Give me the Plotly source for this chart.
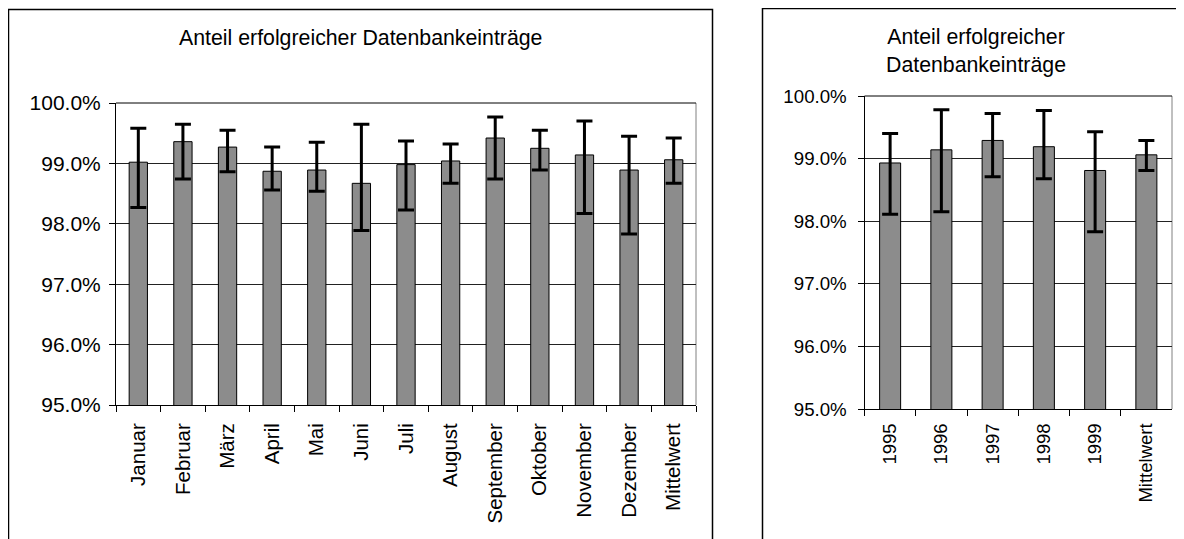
import plotly.graph_objects as go

# ---- data (percent) ----
months = ["Januar", "Februar", "März", "April", "Mai", "Juni", "Juli", "August",
          "September", "Oktober", "November", "Dezember", "Mittelwert"]
monthly_values = [99.02, 99.36, 99.27, 98.87, 98.89, 98.67, 98.98, 99.04, 99.42, 99.25, 99.14, 98.89, 99.06]
monthly_upper = [99.58, 99.65, 99.55, 99.27, 99.35, 99.65, 99.37, 99.32, 99.77, 99.55, 99.70, 99.45, 99.42]
monthly_lower = [98.27, 98.74, 98.86, 98.56, 98.54, 97.89, 98.23, 98.67, 98.74, 98.89, 98.17, 97.83, 98.67]

years = ["1995", "1996", "1997", "1998", "1999", "Mittelwert"]
yearly_values = [98.93, 99.14, 99.29, 99.19, 98.81, 99.06]
yearly_upper = [99.40, 99.78, 99.72, 99.77, 99.43, 99.29]
yearly_lower = [98.11, 98.15, 98.71, 98.68, 97.83, 98.81]

title_text = "Anteil erfolgreicher Datenbankeinträge"
title_text_wrapped = "Anteil erfolgreicher<br>Datenbankeinträge"

# page offset (browser body margin) compensation
OFF = 8
W, H = 1184 - OFF, 539 - OFF
FONT = "Liberation Sans, Arial, sans-serif"
BAR_COLOR = "#8c8c8c"


def frac(v):
    return [x / 100.0 for x in v]


def px_x(p):
    return (p - OFF) / W


def px_y(p):
    return 1 - (p - OFF) / H


fig = go.Figure()

mv = frac(monthly_values)
fig.add_trace(go.Bar(
    x=months, y=mv, width=0.41,
    marker=dict(color=BAR_COLOR, line=dict(color="black", width=1)),
    error_y=dict(type="data", symmetric=False,
                 array=[u - v for u, v in zip(frac(monthly_upper), mv)],
                 arrayminus=[v - l for v, l in zip(mv, frac(monthly_lower))],
                 color="black", thickness=3, width=8),
    xaxis="x", yaxis="y", showlegend=False, hoverinfo="x+y",
))

yv = frac(yearly_values)
fig.add_trace(go.Bar(
    x=years, y=yv, width=0.41,
    marker=dict(color=BAR_COLOR, line=dict(color="black", width=1)),
    error_y=dict(type="data", symmetric=False,
                 array=[u - v for u, v in zip(frac(yearly_upper), yv)],
                 arrayminus=[v - l for v, l in zip(yv, frac(yearly_lower))],
                 color="black", thickness=3, width=8),
    xaxis="x2", yaxis="y2", showlegend=False, hoverinfo="x+y",
))

yaxis_common = dict(range=[0.95, 1.0], dtick=0.01, tick0=0.95, tickformat=".1%",
                    showgrid=True, gridcolor="#222222", gridwidth=1,
                    showline=True, linecolor="black", linewidth=1,
                    ticks="outside", ticklen=6, tickcolor="black",
                    automargin=False, zeroline=False, fixedrange=True)
xaxis_common = dict(type="category", showline=True, linecolor="black", linewidth=1,
                    ticks="outside", tickson="boundaries", ticklen=6, tickcolor="black",
                    tickangle=-90, showgrid=False, fixedrange=True, automargin=False)

fig.update_layout(
    width=W, height=H, autosize=False,
    margin=dict(l=0, r=0, t=0, b=0, pad=0),
    paper_bgcolor="white", plot_bgcolor="white",
    font=dict(family=FONT, color="black"),
    xaxis=dict(domain=[px_x(116), px_x(696)], anchor="y", ticklabelstandoff=9,
               tickfont=dict(size=20.5, family=FONT), **xaxis_common),
    yaxis=dict(domain=[px_y(405), px_y(103)], anchor="x", ticklabelstandoff=4,
               tickfont=dict(size=21, family=FONT), **yaxis_common),
    xaxis2=dict(domain=[px_x(864.5), px_x(1172)], anchor="y2", ticklabelstandoff=6,
                tickfont=dict(size=18.5, family=FONT), **xaxis_common),
    yaxis2=dict(domain=[px_y(409), px_y(96)], anchor="x2", ticklabelstandoff=7,
                tickfont=dict(size=18.7, family=FONT), **yaxis_common),
    annotations=[
        dict(text=title_text, xref="paper", yref="paper", x=px_x(360.5), y=px_y(38),
             xanchor="center", yanchor="middle", showarrow=False,
             font=dict(size=21.3, family=FONT, color="black")),
        dict(text=title_text_wrapped, xref="paper", yref="paper", x=px_x(976), y=px_y(51),
             xanchor="center", yanchor="middle", showarrow=False,
             font=dict(size=21.3, family=FONT, color="black")),
    ],
    shapes=[
        # plot area borders: gray right edge, black top edge
        dict(type="line", xref="x domain", yref="y domain", x0=1, x1=1, y0=0, y1=1,
             line=dict(color="#808080", width=1), layer="below"),
        dict(type="line", xref="x domain", yref="y domain", x0=0, x1=1, y0=1, y1=1,
             line=dict(color="black", width=1), layer="below"),
        dict(type="line", xref="x2 domain", yref="y2 domain", x0=1, x1=1, y0=0, y1=1,
             line=dict(color="#808080", width=1), layer="below"),
        dict(type="line", xref="x2 domain", yref="y2 domain", x0=0, x1=1, y0=1, y1=1,
             line=dict(color="black", width=1), layer="below"),
        # chart area borders
        dict(type="rect", xref="paper", yref="paper",
             x0=px_x(8.5), x1=px_x(712.5), y0=-0.05, y1=px_y(9.5),
             line=dict(color="black", width=1.5), layer="above"),
        dict(type="rect", xref="paper", yref="paper",
             x0=px_x(762.5), x1=1.05, y0=-0.05, y1=px_y(8.5),
             line=dict(color="black", width=1.5), layer="above"),
    ],
)

fig.write_html("out.html")
